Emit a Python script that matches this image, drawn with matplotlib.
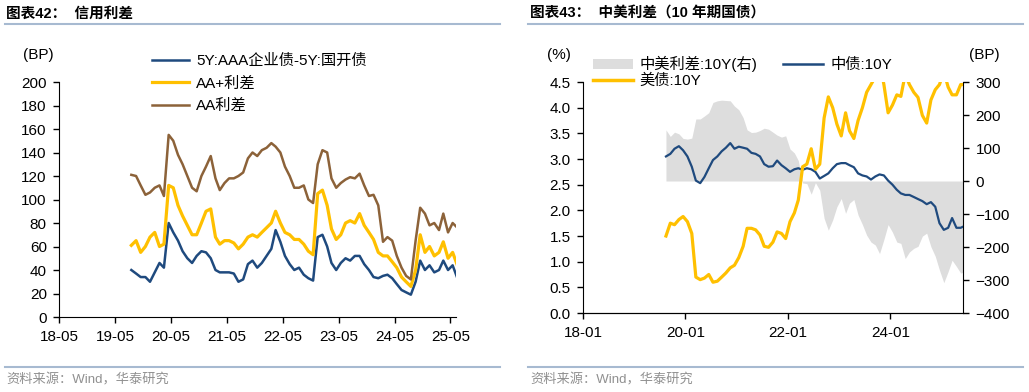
import matplotlib
matplotlib.use('Agg')
import matplotlib.pyplot as plt
import matplotlib.dates as mdates
import numpy as np
import pandas as pd
from matplotlib.lines import Line2D
from matplotlib.patches import Patch

plt.rcParams['font.family'] = ['Liberation Sans', 'Noto Sans CJK SC']

# monthly readings, 2019-08 .. 2025-06
months = pd.date_range('2019-08-01', periods=71, freq='MS') + pd.Timedelta(days=14)

# 图表42 (BP)
aaa_spread = [40, 37, 34, 34, 30, 38, 46, 42, 80, 72, 65, 56, 50, 46, 52, 56, 55, 50,
              40, 38, 38, 38, 37, 30, 32, 45, 48, 42, 46, 52, 58, 74, 64, 52, 45, 40,
              42, 36, 33, 31, 68, 70, 60, 46, 40, 46, 50, 48, 52, 52, 45, 40, 34, 33,
              35, 36, 33, 28, 23, 21, 19, 30, 48, 40, 44, 38, 40, 48, 40, 44, 33]
aa_plus = [61, 65, 55, 60, 68, 72, 60, 62, 112, 110, 95, 86, 78, 70, 70, 80, 90, 92,
           68, 62, 65, 65, 63, 58, 62, 68, 70, 68, 72, 76, 80, 90, 80, 72, 70, 66,
           66, 62, 56, 53, 105, 108, 95, 75, 66, 70, 80, 82, 80, 88, 78, 72, 66, 55,
           52, 52, 47, 42, 34, 30, 26, 40, 70, 55, 60, 52, 55, 64, 50, 55, 44]
aa = [121, 120, 112, 104, 106, 110, 112, 103, 155, 150, 138, 130, 120, 110, 107, 120,
      128, 137, 118, 108, 114, 118, 118, 120, 123, 135, 140, 137, 142, 144, 148, 145,
      140, 128, 120, 110, 110, 112, 100, 97, 130, 142, 140, 118, 110, 114, 117, 119,
      118, 122, 112, 103, 104, 95, 64, 68, 65, 52, 42, 35, 32, 65, 93, 88, 78, 80,
      74, 88, 72, 80, 76]

# 图表43 (%)
cn_10y = [3.05, 3.10, 3.20, 3.25, 3.17, 3.05, 2.85, 2.58, 2.53, 2.65, 2.82, 2.98,
          3.05, 3.15, 3.22, 3.31, 3.20, 3.24, 3.22, 3.20, 3.12, 3.10, 3.05, 2.90,
          2.85, 2.86, 2.97, 2.88, 2.82, 2.75, 2.80, 2.82, 2.79, 2.82, 2.80, 2.75,
          2.62, 2.67, 2.72, 2.82, 2.90, 2.92, 2.92, 2.88, 2.84, 2.72, 2.68, 2.66,
          2.60, 2.66, 2.70, 2.68, 2.58, 2.50, 2.40, 2.33, 2.30, 2.30, 2.26, 2.22,
          2.18, 2.12, 2.16, 2.07, 1.75, 1.62, 1.66, 1.85, 1.66, 1.66, 1.70]
us_10y = [1.50, 1.75, 1.72, 1.82, 1.88, 1.78, 1.55, 0.70, 0.65, 0.68, 0.75, 0.60,
          0.62, 0.70, 0.78, 0.88, 0.93, 1.08, 1.30, 1.65, 1.65, 1.62, 1.52, 1.30,
          1.28, 1.38, 1.58, 1.55, 1.45, 1.78, 1.95, 2.20, 2.85, 2.90, 3.20, 2.80,
          2.90, 3.80, 4.21, 4.00, 3.68, 3.45, 3.90, 3.55, 3.40, 3.75, 4.00, 4.30,
          4.45, 4.60, 4.90, 4.45, 3.90, 4.05, 4.25, 4.22, 4.65, 4.45, 4.30, 4.20,
          3.85, 3.70, 4.15, 4.35, 4.45, 4.70, 4.40, 4.25, 4.25, 4.45, 4.45]
cn_us_bp = (np.array(cn_10y) - np.array(us_10y)) * 100

BLUE = '#1F4A7E'
GOLD = '#FFC000'
BROWN = '#8C6239'
GREY = '#DDDDDD'
FS = 11

fig = plt.figure(figsize=(10.29, 3.92), dpi=100)


def style(ax):
  ax.spines['top'].set_visible(False)
  ax.spines['right'].set_visible(False)
  ax.tick_params(direction='out', length=4, width=1, labelsize=FS, pad=5)


# ---- left: 信用利差
ax1 = fig.add_axes([0.0576, 0.1913, 0.3854, 0.5995])
style(ax1)
ax1.plot(months, aaa_spread, color=BLUE, lw=1.8, label='5Y:AAA企业债-5Y:国开债')
ax1.plot(months, aa_plus, color=GOLD, lw=2.3, label='AA+利差')
ax1.plot(months, aa, color=BROWN, lw=1.8, label='AA利差')
ax1.set_ylim(0, 200)
ax1.set_yticks(range(0, 201, 20))
ax1.set_xlim(pd.Timestamp('2018-05-01'), pd.Timestamp('2025-06-05'))
ax1.set_xticks(pd.date_range('2018-05-01', '2025-05-01', freq='12MS'))
ax1.xaxis.set_major_formatter(mdates.DateFormatter('%y-%m'))
fig.legend(*ax1.get_legend_handles_labels(), loc='upper left',
           bbox_to_anchor=(0.1477, 0.862), frameon=False, fontsize=FS,
           handlelength=2.4, handletextpad=0.5, labelspacing=0.55,
           borderpad=0, borderaxespad=0)
fig.text(0.037, 0.86, '(BP)', fontsize=FS, ha='center', va='center')

# ---- right: 中美利差
ax2 = fig.add_axes([0.5666, 0.2015, 0.3693, 0.5893])
ax3 = ax2.twinx()
style(ax2)
ax3.spines['top'].set_visible(False)
ax3.spines['left'].set_visible(False)
ax3.tick_params(direction='out', length=4, width=1, labelsize=FS, pad=5)
ax3.fill_between(months, 0, cn_us_bp, color=GREY, lw=0)
ax2.set_zorder(ax3.get_zorder() + 1)
ax2.patch.set_visible(False)
ax2.plot(months, cn_10y, color=BLUE, lw=1.6)
ax2.plot(months, us_10y, color=GOLD, lw=2.3)
ax2.set_ylim(0, 4.5)
ax2.set_yticks(np.arange(0, 4.51, 0.5))
ax2.yaxis.set_major_formatter(matplotlib.ticker.FormatStrFormatter('%.1f'))
ax3.set_ylim(-400, 300)
ax3.set_yticks(range(-400, 301, 100))
ax2.set_xlim(pd.Timestamp('2018-01-01'), pd.Timestamp('2025-06-01'))
ax2.set_xticks(pd.to_datetime(['2018-01-01', '2020-01-01', '2022-01-01', '2024-01-01']))
ax2.xaxis.set_major_formatter(mdates.DateFormatter('%y-%m'))
handles = [Patch(color=GREY, lw=0), Line2D([], [], color=GOLD, lw=2.5),
           Line2D([], [], color=BLUE, lw=1.8)]
labels = ['中美利差:10Y(右)', '美债:10Y', '中债:10Y']
fig.legend(handles, labels, loc='upper left', bbox_to_anchor=(0.5763, 0.857),
           frameon=False, fontsize=FS, ncol=2, handlelength=2.6,
           handletextpad=0.45, labelspacing=0.1, columnspacing=1.7,
           borderpad=0, borderaxespad=0)
fig.text(0.543, 0.86, '(%)', fontsize=FS, ha='center', va='center')
fig.text(0.957, 0.86, '(BP)', fontsize=FS, ha='center', va='center')

# ---- headers and footers
RULE = '#A7BAD1'
fig.text(0.006, 0.965, '图表42：  信用利差', fontsize=10.5, fontweight='bold',
         ha='left', va='center')
fig.text(0.515, 0.965, '图表43：  中美利差（10 年期国债）', fontsize=10.5,
         fontweight='bold', ha='left', va='center')
for x0, x1 in [(0.005, 0.486), (0.513, 0.994)]:
  fig.add_artist(Line2D([x0, x1], [0.939, 0.939], transform=fig.transFigure,
                        color=RULE, lw=1.5))
  fig.add_artist(Line2D([x0, x1], [0.064, 0.064], transform=fig.transFigure,
                        color=RULE, lw=1.5))
fig.text(0.006, 0.031, '资料来源：Wind，华泰研究', fontsize=9.5, color='#909090',
         ha='left', va='center')
fig.text(0.515, 0.031, '资料来源：Wind，华泰研究', fontsize=9.5, color='#909090',
         ha='left', va='center')

fig.savefig('out.png', dpi=100)
